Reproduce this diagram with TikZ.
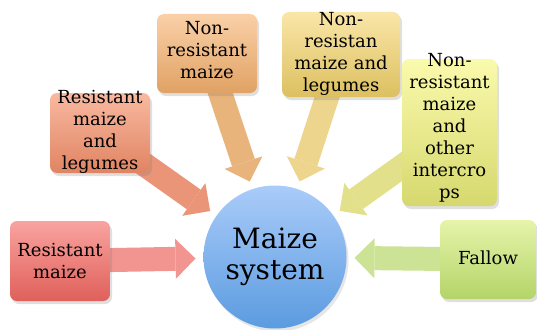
\documentclass[tikz,border=0pt]{standalone}
\usepackage{fontspec}
\setmainfont{DejaVu Serif}
\usetikzlibrary{shadows,arrows.meta}
\definecolor{r1t}{HTML}{F9A3A0}\definecolor{r1b}{HTML}{E0605A}
\definecolor{r2t}{HTML}{F9B9A0}\definecolor{r2b}{HTML}{E08462}
\definecolor{r3t}{HTML}{FAD0A8}\definecolor{r3b}{HTML}{E0A264}
\definecolor{r4t}{HTML}{FAE6A8}\definecolor{r4b}{HTML}{DCC060}
\definecolor{r5t}{HTML}{FAFAAC}\definecolor{r5b}{HTML}{D6D86E}
\definecolor{r6t}{HTML}{E6F4AA}\definecolor{r6b}{HTML}{B4D468}
\definecolor{ct}{HTML}{AACCF9}\definecolor{cb}{HTML}{5B9BE0}
\definecolor{a1}{HTML}{F29590}\definecolor{a2}{HTML}{EA9478}
\definecolor{a3}{HTML}{E9B47C}\definecolor{a4}{HTML}{EDD58E}
\definecolor{a5}{HTML}{E2E08A}\definecolor{a6}{HTML}{CCE396}
\begin{document}
\begin{tikzpicture}[x=1pt,y=-1pt,
  stepbox/.style={rectangle, rounded corners=7pt, inner sep=0pt, outer sep=0pt,
    drop shadow={shadow xshift=2pt, shadow yshift=-3pt, opacity=0.25}},
  txt/.style={align=center, inner sep=0pt, font=\fontsize{18}{22}\selectfont},
  fat/.style={line width=24pt, draw=#1, shorten >=8pt,
    -{Triangle[length=20pt, width=40pt, line width=0pt]}}]
\useasboundingbox (0,0) rectangle (537,329);
% boxes positions (centers)
\coordinate (p1) at (60,261);
\coordinate (p2) at (100,133);
\coordinate (p3) at (207,53.5);
\coordinate (p4) at (341,54.5);
\coordinate (p5) at (449.5,132.5);
\coordinate (p6) at (488,259.5);
% circle
\node[circle, inner sep=0pt, outer sep=0pt, minimum size=143pt,
  top color=ct, bottom color=cb,
  drop shadow={shadow xshift=2pt, shadow yshift=-3pt, opacity=0.2},
  align=center, font=\fontsize{28}{31}\selectfont] (c) at (275,257) {Maize\\system};
% arrows
\draw[fat=a1] (p1) -- (c);
\draw[fat=a2] (p2) -- (c);
\draw[fat=a3] (p3) -- (c);
\draw[fat=a4] (p4) -- (c);
\draw[fat=a5] (p5) -- (c);
\draw[fat=a6] (p6) -- (c);
% boxes
\node[stepbox, minimum width=100pt, minimum height=80pt, top color=r1t, bottom color=r1b] (b1) at (p1) {};
\node[stepbox, minimum width=100pt, minimum height=80pt, top color=r2t, bottom color=r2b] (b2) at (p2) {};
\node[stepbox, minimum width=100pt, minimum height=79pt, top color=r3t, bottom color=r3b] (b3) at (p3) {};
\node[stepbox, minimum width=118pt, minimum height=85pt, top color=r4t, bottom color=r4b] (b4) at (p4) {};
\node[stepbox, minimum width=95pt, minimum height=147pt, top color=r5t, bottom color=r5b] (b5) at (p5) {};
\node[stepbox, minimum width=96pt, minimum height=79pt, top color=r6t, bottom color=r6b] (b6) at (p6) {};
% texts
\node[txt] (t1) at (b1) {Resistant\\maize};
\node[txt] (t2) at ([yshift=1pt]b2.center) {Resistant\\maize\\and\\legumes};
\node[txt] (t3) at ([yshift=3pt]b3.center) {Non-\\resistant\\maize};
\node[txt] (t4) at ([yshift=1pt]b4.center) {Non-\\resistan\\maize and\\legumes};
\node[txt] (t5) at ([yshift=5pt]b5.center) {Non-\\resistant\\maize\\and\\other\\intercro\\ps};
\node[txt] (t6) at ([yshift=2pt]b6.center) {Fallow};
\end{tikzpicture}
\end{document}
